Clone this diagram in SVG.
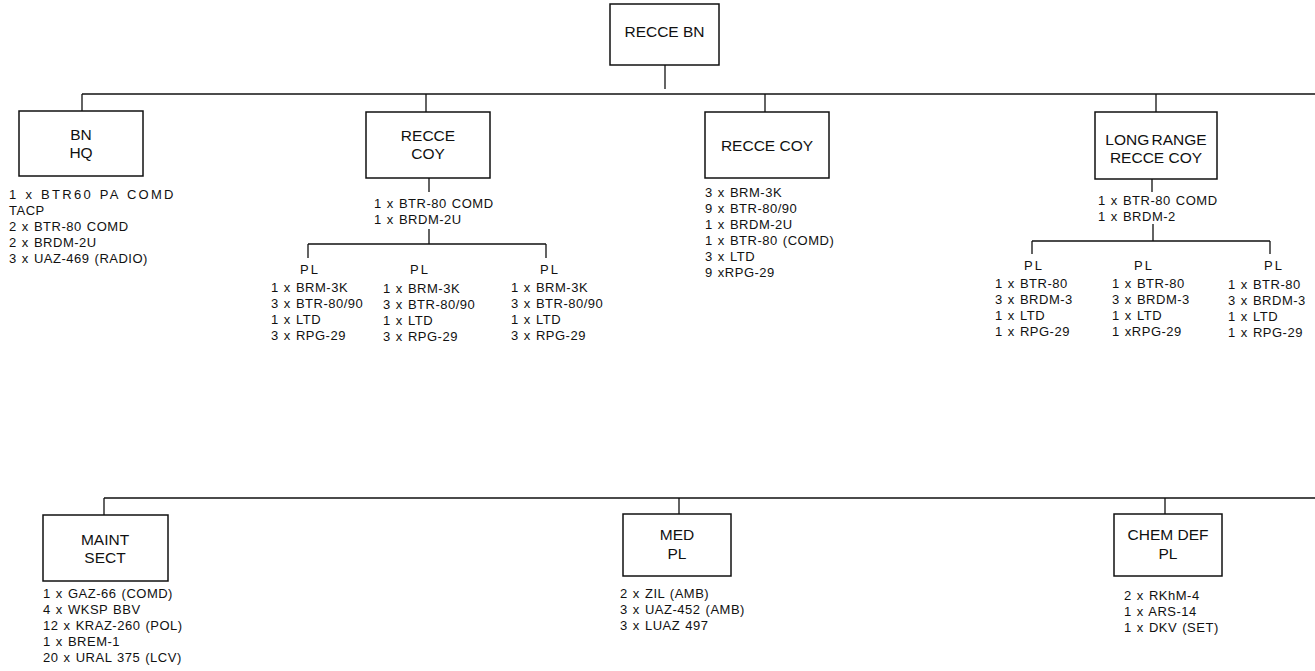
<svg xmlns="http://www.w3.org/2000/svg" width="1315" height="671" viewBox="0 0 1315 671">
<style>
.box{fill:#fff;stroke:#111;stroke-width:1.5}
.ln{stroke:#111;stroke-width:1.3;fill:none}
.t{font-family:"Liberation Sans",Arial,sans-serif;font-size:15.5px;fill:#111;text-anchor:middle}
.l{font-family:"Liberation Sans",Arial,sans-serif;font-size:13px;fill:#111;letter-spacing:0.5px;word-spacing:1px}
.pl{font-family:"Liberation Sans",Arial,sans-serif;font-size:13px;fill:#111;letter-spacing:2px;text-anchor:middle}
</style>
<rect width="1315" height="671" fill="#fff"/>
<g id="connectors" class="ln">
<path d="M665 65V89"/>
<path d="M82 94H1315"/>
<path d="M82 94V111M426 94V112M765 94V112M1156 94V112"/>
<path d="M429 178V192M429 229V244M308 244H546M308 244V258M546 244V258"/>
<path d="M1152 179V192M1153 224V241M1032 241H1270M1032 241V254M1270 241V254"/>
<path d="M104 498H1315M104 498V515M679 498V514M1165 498V514"/>
</g>
<g id="recce-bn">
<rect class="box" x="610" y="4" width="109" height="61"/>
<text class="t" x="664.5" y="37">RECCE BN</text>
</g>
<g id="bn-hq">
<rect class="box" x="19" y="111" width="124" height="65"/>
<text class="t" x="81" y="140">BN</text>
<text class="t" x="81" y="158">HQ</text>
<text class="l" x="9" y="199" textLength="165" lengthAdjust="spacing">1 x BTR60 PA COMD</text>
<text class="l" x="9" y="215">TACP</text>
<text class="l" x="9" y="231">2 x BTR-80 COMD</text>
<text class="l" x="9" y="247">2 x BRDM-2U</text>
<text class="l" x="9" y="263">3 x UAZ-469 (RADIO)</text>
</g>
<g id="recce-coy-1">
<rect class="box" x="366" y="112" width="124" height="66"/>
<text class="t" x="428" y="141">RECCE</text>
<text class="t" x="428" y="159">COY</text>
<text class="l" x="374" y="208">1 x BTR-80 COMD</text>
<text class="l" x="374" y="224">1 x BRDM-2U</text>
</g>
<g id="recce-coy-1-pl1">
<text class="pl" x="310" y="274">PL</text>
<text class="l" x="271" y="292">1 x BRM-3K</text>
<text class="l" x="271" y="308">3 x BTR-80/90</text>
<text class="l" x="271" y="324">1 x LTD</text>
<text class="l" x="271" y="340">3 x RPG-29</text>
</g>
<g id="recce-coy-1-pl2">
<text class="pl" x="420" y="274">PL</text>
<text class="l" x="383" y="293">1 x BRM-3K</text>
<text class="l" x="383" y="309">3 x BTR-80/90</text>
<text class="l" x="383" y="325">1 x LTD</text>
<text class="l" x="383" y="341">3 x RPG-29</text>
</g>
<g id="recce-coy-1-pl3">
<text class="pl" x="550" y="274">PL</text>
<text class="l" x="511" y="292">1 x BRM-3K</text>
<text class="l" x="511" y="308">3 x BTR-80/90</text>
<text class="l" x="511" y="324">1 x LTD</text>
<text class="l" x="511" y="340">3 x RPG-29</text>
</g>
<g id="recce-coy-2">
<rect class="box" x="705" y="112" width="124" height="66"/>
<text class="t" x="767" y="151">RECCE COY</text>
<text class="l" x="705" y="197">3 x BRM-3K</text>
<text class="l" x="705" y="213">9 x BTR-80/90</text>
<text class="l" x="705" y="229">1 x BRDM-2U</text>
<text class="l" x="705" y="245">1 x BTR-80 (COMD)</text>
<text class="l" x="705" y="261">3 x LTD</text>
<text class="l" x="705" y="277">9 xRPG-29</text>
</g>
<g id="long-range-recce-coy">
<rect class="box" x="1095" y="112" width="122" height="67"/>
<text class="t" x="1156" y="145" word-spacing="-2">LONG RANGE</text>
<text class="t" x="1156" y="163">RECCE COY</text>
<text class="l" x="1098" y="205">1 x BTR-80 COMD</text>
<text class="l" x="1098" y="221">1 x BRDM-2</text>
</g>
<g id="lr-pl1">
<text class="pl" x="1034" y="270">PL</text>
<text class="l" x="995" y="288">1 x BTR-80</text>
<text class="l" x="995" y="304">3 x BRDM-3</text>
<text class="l" x="995" y="320">1 x LTD</text>
<text class="l" x="995" y="336">1 x RPG-29</text>
</g>
<g id="lr-pl2">
<text class="pl" x="1144" y="270">PL</text>
<text class="l" x="1112" y="288">1 x BTR-80</text>
<text class="l" x="1112" y="304">3 x BRDM-3</text>
<text class="l" x="1112" y="320">1 x LTD</text>
<text class="l" x="1112" y="336">1 xRPG-29</text>
</g>
<g id="lr-pl3">
<text class="pl" x="1274" y="270">PL</text>
<text class="l" x="1228" y="289">1 x BTR-80</text>
<text class="l" x="1228" y="305">3 x BRDM-3</text>
<text class="l" x="1228" y="321">1 x LTD</text>
<text class="l" x="1228" y="337">1 x RPG-29</text>
</g>
<g id="maint-sect">
<rect class="box" x="43" y="515" width="125" height="66"/>
<text class="t" x="105" y="545">MAINT</text>
<text class="t" x="105" y="563">SECT</text>
<text class="l" x="43" y="598">1 x GAZ-66 (COMD)</text>
<text class="l" x="43" y="614">4 x WKSP BBV</text>
<text class="l" x="43" y="630">12 x KRAZ-260 (POL)</text>
<text class="l" x="43" y="646">1 x BREM-1</text>
<text class="l" x="43" y="662">20 x URAL 375 (LCV)</text>
</g>
<g id="med-pl">
<rect class="box" x="623" y="514" width="108" height="62"/>
<text class="t" x="677" y="540">MED</text>
<text class="t" x="677" y="559">PL</text>
<text class="l" x="620" y="598">2 x ZIL (AMB)</text>
<text class="l" x="620" y="614">3 x UAZ-452 (AMB)</text>
<text class="l" x="620" y="630">3 x LUAZ 497</text>
</g>
<g id="chem-def-pl">
<rect class="box" x="1114" y="514" width="108" height="62"/>
<text class="t" x="1168" y="540">CHEM DEF</text>
<text class="t" x="1168" y="559">PL</text>
<text class="l" x="1124" y="600">2 x RKhM-4</text>
<text class="l" x="1124" y="616">1 x ARS-14</text>
<text class="l" x="1124" y="632">1 x DKV (SET)</text>
</g>
</svg>
